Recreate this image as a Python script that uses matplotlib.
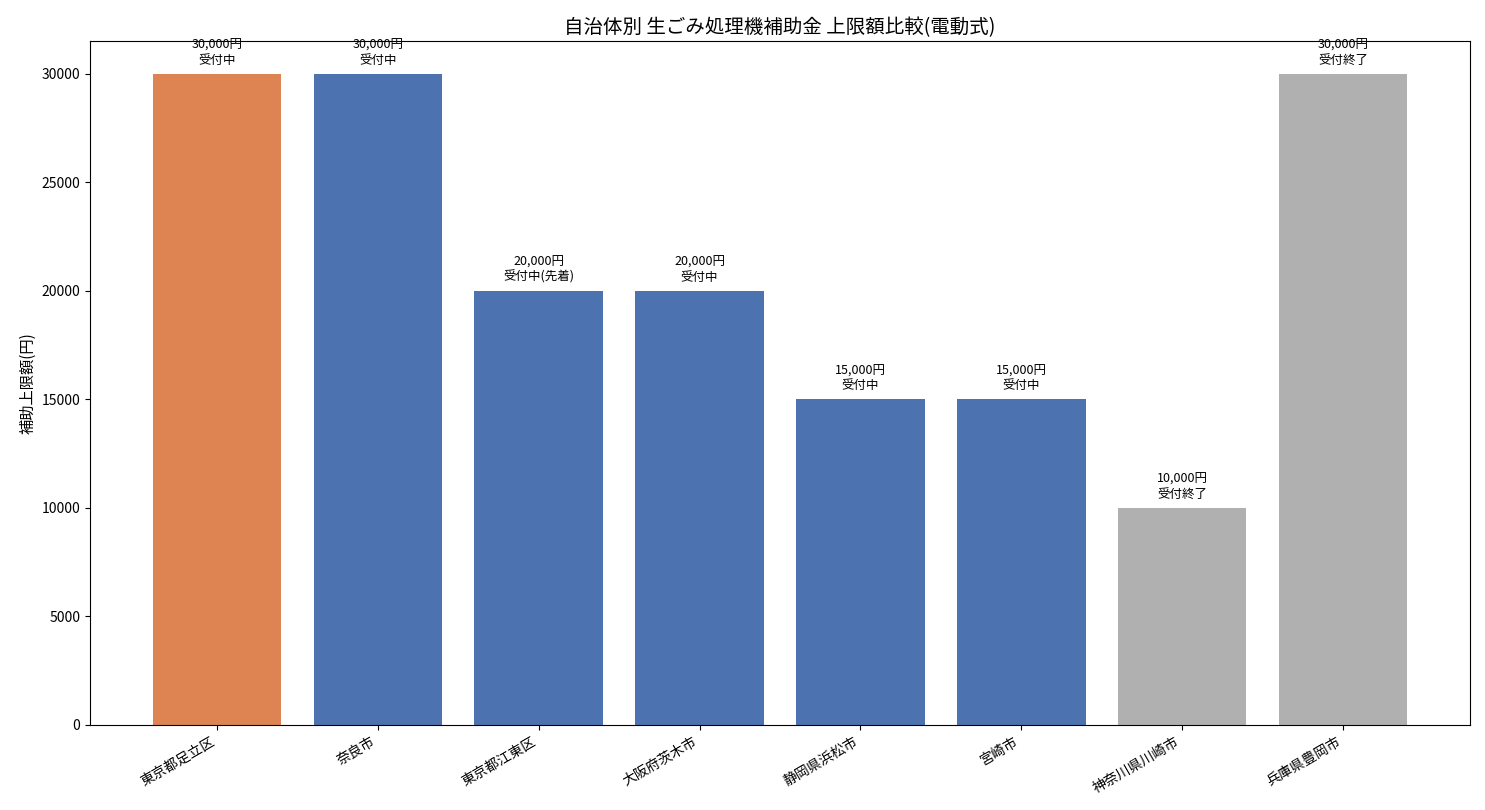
import matplotlib
matplotlib.use("Agg")
import matplotlib.pyplot as plt

plt.rcParams['font.family'] = ['Noto Sans CJK JP', 'DejaVu Sans']

cities = ["東京都足立区", "奈良市", "東京都江東区", "大阪府茨木市", "静岡県浜松市", "宮崎市", "神奈川県川崎市", "兵庫県豊岡市"]
amounts = [30000, 30000, 20000, 20000, 15000, 15000, 10000, 30000]
statuses = ["受付中", "受付中", "受付中(先着)", "受付中", "受付中", "受付中", "受付終了", "受付終了"]
colors = ["#DD8452", "#4C72B0", "#4C72B0", "#4C72B0", "#4C72B0", "#4C72B0", "#B0B0B0", "#B0B0B0"]

fig = plt.figure(figsize=(14.85, 8.1), dpi=100)
ax = fig.add_axes([0.0606, 0.105, 0.9293, 0.844])
x = list(range(len(cities)))
bars = ax.bar(x, amounts, color=colors, width=0.8)
for xi, v, s in zip(x, amounts, statuses):
    ax.annotate(f"{v:,}円\n{s}", xy=(xi, v), xytext=(0, 5), textcoords="offset points",
                ha="center", va="bottom", fontsize=9, linespacing=1.2)
ax.set_xticks(x)
ax.set_xticklabels(cities, rotation=30, ha="right", fontsize=10)
ax.tick_params(axis='y', labelsize=10)
ax.set_ylabel("補助上限額(円)", fontsize=11)
ax.set_title("自治体別 生ごみ処理機補助金 上限額比較(電動式)", fontsize=14)
fig.savefig("out.png", dpi=100)
